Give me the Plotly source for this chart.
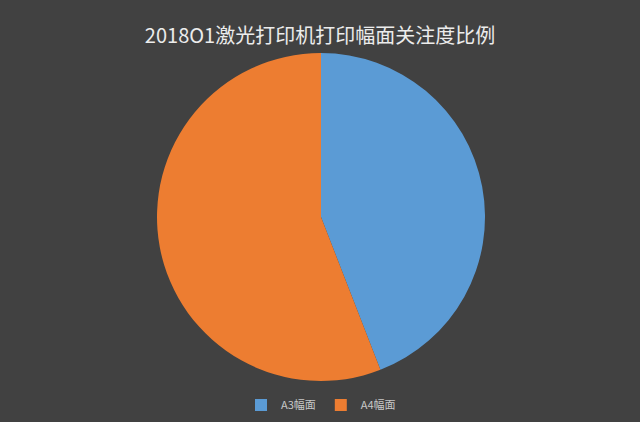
import plotly.graph_objects as go

# 打印幅面关注度
labels = ["A3幅面", "A4幅面"]
shares = [44.1, 55.9]
colors = ["#5b9bd5", "#ed7d31"]

fig = go.Figure(go.Pie(
    labels=labels,
    values=shares,
    sort=False,
    direction="clockwise",
    rotation=0,
    marker=dict(colors=colors, line=dict(width=0)),
    textinfo="none",
    hoverinfo="label+percent",
))

fig.update_layout(
    title=dict(
        text="2018O1激光打印机打印幅面关注度比例",
        x=0.5, xanchor="center",
        yref="container",
        y=0.915, yanchor="middle",
        font=dict(family="Noto Sans CJK SC", size=20, color="#ececec"),
    ),
    width=640,
    height=422,
    margin=dict(l=157, r=155, t=53, b=41, autoexpand=False),
    paper_bgcolor="#414141",
    plot_bgcolor="#414141",
    showlegend=True,
    legend=dict(
        orientation="h",
        x=0.5, xanchor="center",
        yref="container",
        y=0.04, yanchor="middle",
        font=dict(family="Noto Sans CJK SC", size=11, color="#c8c8c8"),
        itemwidth=30,
        tracegroupgap=0,
    ),
)

# 去掉页面默认边距
fig.write_html(
    "out.html",
    config={"displayModeBar": False},
    post_script="document.body.style.margin='0';",
)
